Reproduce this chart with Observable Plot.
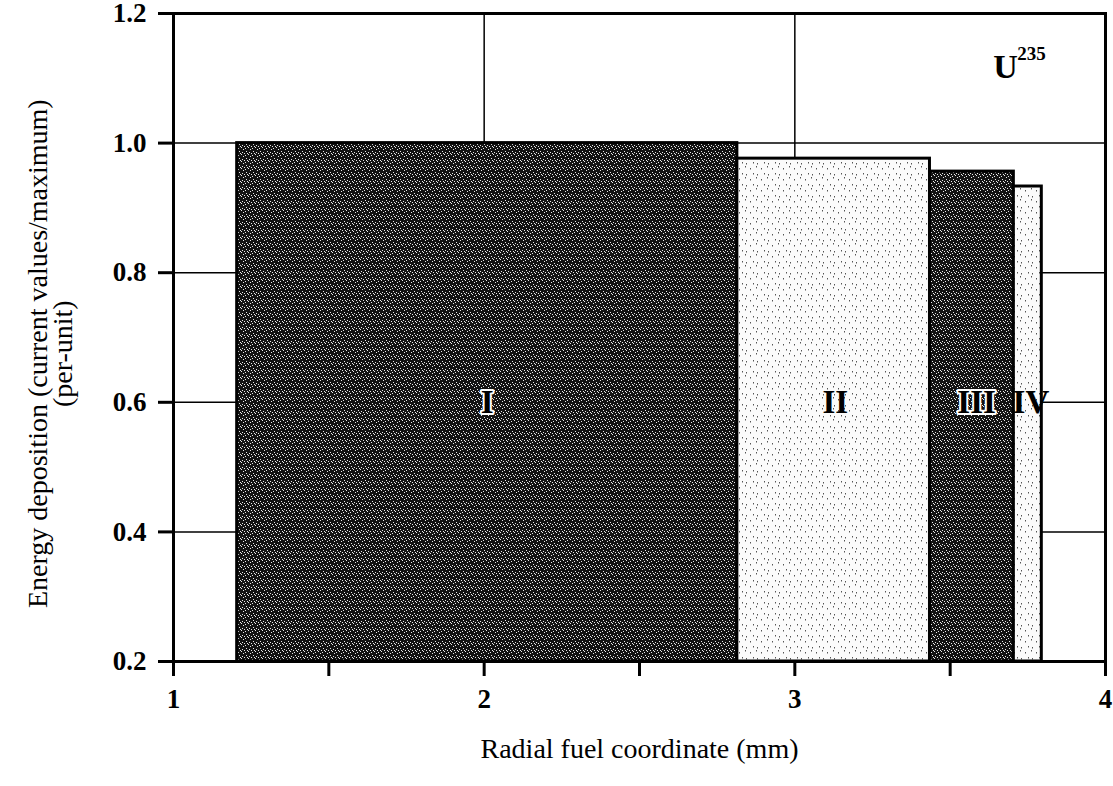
<!DOCTYPE html>
<html><head><meta charset="utf-8">
<script src="https://cdn.jsdelivr.net/npm/d3@7"></script>
<script src="https://cdn.jsdelivr.net/npm/@observablehq/plot@0.6"></script>
<style>body{margin:0;background:#fff;} #chart svg{display:block;}</style>
</head><body><div id="chart"></div>
<script>
// Zones of the fuel pellet (radial coordinate, mm) and energy deposition (per-unit)
const zones = ["I", "II", "III", "IV"];
const zoneStart = [1.205, 2.815, 3.435, 3.705];
const zoneEnd = [2.815, 3.435, 3.705, 3.795];
const zoneTop = [1.0, 0.976, 0.956, 0.933];
const zoneShade = ["dark", "light", "dark", "light"];
const labelX = [2.01, 3.13, 3.585, 3.76];
const labelY = [0.6, 0.6, 0.6, 0.6];
const baseline = 0.2;
const xTicks = [1, 1.5, 2, 2.5, 3, 3.5, 4];
const yTicks = [0.2, 0.4, 0.6, 0.8, 1.0, 1.2];
const gridX = [2, 3];
const gridY = [0.4, 0.6, 0.8, 1.0];
const isotope = "U";
const isotopeMass = "235";
const xTitle = "Radial fuel coordinate (mm)";
const yTitle1 = "Energy deposition (current values/maximum)";
const yTitle2 = "(per-unit)";

const table = zones.map((z, i) => ({
  zone: z, x1: zoneStart[i], x2: zoneEnd[i], top: zoneTop[i], base: baseline,
  shade: zoneShade[i], lx: labelX[i], ly: labelY[i]
}));

const serif = "'Liberation Serif', 'Times New Roman', serif";

const plot = Plot.plot({
  width: 1113, height: 786,
  marginLeft: 173, marginRight: 8, marginTop: 13, marginBottom: 125,
  style: {fontFamily: serif, fontSize: "27px", fontWeight: "bold", background: "white", color: "black"},
  x: {domain: [1, 4]},
  y: {domain: [0.2, 1.2]},
  marks: [
    Plot.ruleY(gridY, {stroke: "black", strokeWidth: 1.5}),
    Plot.ruleX(gridX, {stroke: "black", strokeWidth: 1.5}),
    Plot.rect(table.filter(d => d.shade === "dark"), {x1: "x1", x2: "x2", y1: "base", y2: "top", fill: "url(#stippleDark)", stroke: "black", strokeWidth: 3}),
    Plot.rect(table.filter(d => d.shade === "light"), {x1: "x1", x2: "x2", y1: "base", y2: "top", fill: "url(#stippleLight)", stroke: "black", strokeWidth: 3}),
    Plot.frame({stroke: "black", strokeWidth: 3}),
    Plot.text(table.filter(d => d.shade === "dark"), {x: "lx", y: "ly", text: "zone", fontSize: 33, fontWeight: "bold", fill: "black", stroke: "white", strokeWidth: 4, paintOrder: "stroke"}),
    Plot.text(table.filter(d => d.shade === "light"), {x: "lx", y: "ly", text: "zone", fontSize: 33, fontWeight: "bold", fill: "black"}),
    Plot.text([isotope], {x: 3.678, y: 1.118, fontSize: 34, fontWeight: "bold", fill: "black"}),
    Plot.text([isotopeMass], {x: 3.716, y: 1.138, fontSize: 19, fontWeight: "bold", fill: "black", textAnchor: "start"}),
    Plot.axisY(yTicks, {tickFormat: d3.format(".1f"), tickSize: 15, tickPadding: 12, strokeWidth: 3, fontSize: 27, fontWeight: "bold", label: null}),
    Plot.axisX(xTicks, {tickFormat: d => Number.isInteger(d) ? String(d) : "", tickSize: 15, tickPadding: 12, strokeWidth: 3, fontSize: 27, fontWeight: "bold", label: null}),
    Plot.text([xTitle], {x: 2.5, y: 0.0655, fontSize: 28, fontWeight: "normal", lineAnchor: "middle"}),
    Plot.text([yTitle1], {x: 0.5655, y: 0.675, rotate: -90, fontSize: 28, fontWeight: "normal", lineAnchor: "middle"}),
    Plot.text([yTitle2], {x: 0.646, y: 0.675, rotate: -90, fontSize: 28, fontWeight: "normal", lineAnchor: "middle"})
  ]
});

// stipple textures
const svg = d3.select(plot);
const defs = svg.insert("defs", ":first-child");
const pd = defs.append("pattern").attr("id", "stippleDark").attr("patternUnits", "userSpaceOnUse").attr("width", 7).attr("height", 7);
pd.append("rect").attr("width", 7).attr("height", 7).attr("fill", "#141414");
[[0,1],[3,0],[5,2],[1,4],[4,5],[6,6],[2,6]].forEach(([a,b]) => pd.append("rect").attr("x", a).attr("y", b).attr("width", 1).attr("height", 1).attr("fill", "#e8e8e8"));
const pl = defs.append("pattern").attr("id", "stippleLight").attr("patternUnits", "userSpaceOnUse").attr("width", 11).attr("height", 11);
pl.append("rect").attr("width", 11).attr("height", 11).attr("fill", "#fbfbfb");
[[2,3],[8,1],[5,8],[9,9]].forEach(([a,b]) => pl.append("rect").attr("x", a).attr("y", b).attr("width", 1).attr("height", 1.5).attr("fill", "#555"));

document.getElementById("chart").appendChild(plot);
</script>
</body></html>
